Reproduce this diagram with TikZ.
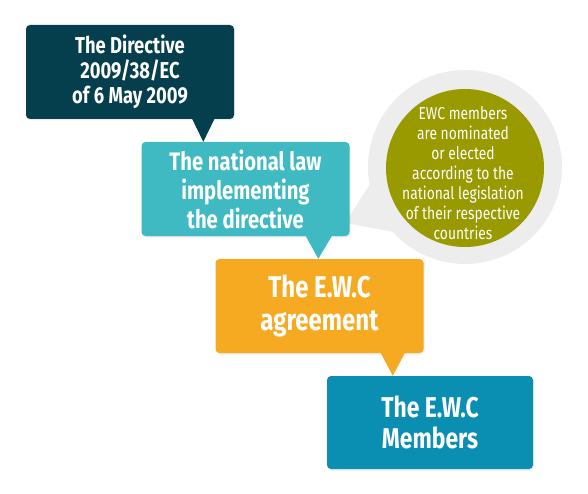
\documentclass[tikz,border=0pt]{standalone}
\usepackage{fontspec}
\usetikzlibrary{calc,shadows}
\newfontfamily\calloutFont[FakeStretch=0.8]{Fira Sans}
\definecolor{dirBlue}{HTML}{053E4D}
\definecolor{lawTeal}{HTML}{3FBAC2}
\definecolor{agrOrange}{HTML}{F6AA21}
\definecolor{memBlue}{HTML}{0A8FB3}
\definecolor{bubbleOlive}{HTML}{999A00}
\definecolor{bubbleGrey}{HTML}{EDEDED}

\begin{document}
\begin{tikzpicture}[x=1pt,y=-1pt]
 \tikzset{
  callBox/.style={rectangle, rounded corners=4pt, inner sep=0pt, minimum width=208pt,
   minimum height=94pt, align=center, text=white, font=\calloutFont\bfseries,
   drop shadow={opacity=0.15, shadow xshift=1pt, shadow yshift=-1.5pt}},
  bubbleText/.style={align=center, text=white, font=\calloutFont\fontsize{17.3}{20}\selectfont}
  }
  \useasboundingbox (0,0) rectangle (588,494);
  % the grey speech bubble
  \fill[bubbleGrey] (465,167) circle [radius=97pt];
  \node[circle, fill=bubbleOlive, minimum size=158pt, inner sep=0pt] (olive) at (465,168) {};
  \coordinate (bubbleTip) at (345,223);
  \fill[bubbleGrey] (370,184) -- (bubbleTip) -- (394,232) -- cycle;
  \node[bubbleText] (bubbleTxt) at (463,173) {EWC members\\are nominated\\or elected\\according to the\\national legislation\\of their respective\\countries};

  % the four callouts
  \node[callBox, fill=dirBlue, font=\calloutFont\bfseries\fontsize{23}{25}\selectfont]
   (boxDir) at (130,72) {The Directive\\2009/38/EC\\of 6 May 2009};
  \node[callBox, fill=lawTeal, font=\calloutFont\bfseries\fontsize{25.3}{29}\selectfont]
   (boxLaw) at (245.5,189) {The national law\\implementing\\the directive};
  \node[callBox, fill=agrOrange, font=\calloutFont\bfseries\fontsize{30}{33}\selectfont]
   (boxAgr) at (319.5,306) {The E.W.C\\agreement};
  \node[callBox, fill=memBlue, minimum width=206pt, minimum height=93pt,
   font=\calloutFont\bfseries\fontsize{28.6}{31}\selectfont]
   (boxMem) at (430,422.5) {The E.W.C\\Members};

  % pointers from one callout to the next
  \fill[dirBlue] ($(boxDir.south west)+(166,-1)$) -- ($(boxDir.south west)+(189,-1)$)
   -- ($(boxLaw.north west)+(62,0)$) -- cycle;
  \fill[lawTeal] ($(boxLaw.south west)+(164,-1)$) -- ($(boxLaw.south west)+(191,-1)$)
   -- ($(boxAgr.north west)+(103,0)$) -- cycle;
  \fill[agrOrange] ($(boxAgr.south west)+(165,-1)$) -- ($(boxAgr.south west)+(190,-1)$)
   -- ($(boxMem.north west)+(66,0)$) -- cycle;
\end{tikzpicture}
\end{document}
